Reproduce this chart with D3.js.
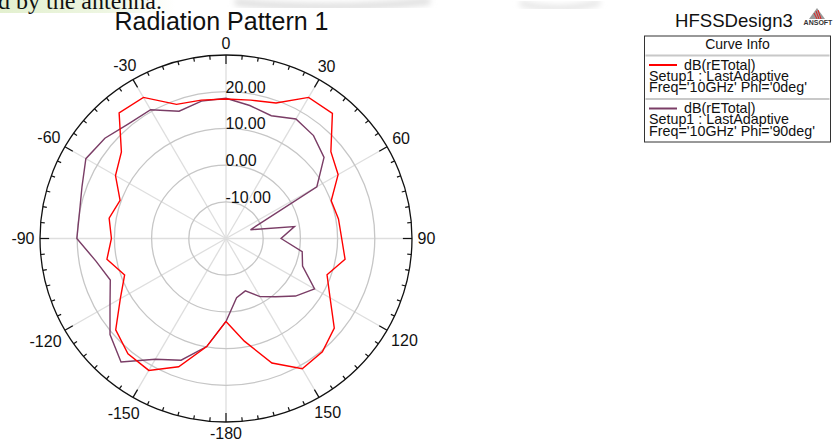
<!DOCTYPE html>
<html>
<head>
<meta charset="utf-8">
<script src="https://cdn.jsdelivr.net/npm/d3@7"></script>
<style>
  body { margin: 0; background: #fff; }
  svg text { font-family: "Liberation Sans", Arial, sans-serif; fill: #111; }
</style>
</head>
<body>
<svg id="chart" width="840" height="441"></svg>
<script>
// Data (theta in degrees, values in dB)
const thetas = [-180, -170, -160, -150, -140, -130, -120, -110, -100, -90, -80, -70, -60, -50, -40, -30, -20, -10,
    0, 10, 20, 30, 40, 50, 60, 70, 80, 90, 100, 110, 120, 130, 140, 150, 160, 170, 180];
const phi0 = [2.6, 9.9, 17.2, 21.5, 21.0, 18.7, 12.8, 9.0, 12.5, 10.8, 11.9, 10.3, 14.3, 16.7, 24.7, 24.4, 18.9, 18.3,
    18.0, 18.3, 19.3, 24.4, 24.5, 16.8, 14.8, 10.1, 10.7, 11.1, 12.5, 8.9, 12.3, 18.0, 20.3, 21.0, 16.1, 8.4, 2.6];
const phi90 = [2.6, 9.9, 15.3, 18.0, 23.9, 20.7, 16.0, 13.1, 15.5, 20.1, 20.0, 21.2, 23.5, 22.5, 20.8, 20.5, 16.9, 18.0,
    18.2, 16.8, 15.6, 17.6, 16.6, 14.4, 8.2, -13.0, -1.3, -5.2, 0.8, 1.9, 7.5, 4.4, 0.7, -1.7, -4.8, -3.6, 2.6];
const ringLevels = [-10, 0, 10, 20];
const ringLabels = ["-10.00", "0.00", "10.00", "20.00"];
const angleLabels = [0, 30, 60, 90, 120, 150, -180, -150, -120, -90, -60, -30];
const legendRows = [
    { lines: ["dB(rETotal)", "Setup1 : LastAdaptive", "Freq='10GHz' Phi='0deg'"], color: "#ff0000" },
    { lines: ["dB(rETotal)", "Setup1 : LastAdaptive", "Freq='10GHz' Phi='90deg'"], color: "#7a3d66" }
];

const svg = d3.select("#chart");
const cx = 226, cy = 238.5;
const ry = 183.5, rx = 186;
const sx = rx / ry;
const rad = d => d * Math.PI / 180;

const r = d3.scaleLinear().domain([-20, 30]).range([0, ry]);

// Page remnant at the top-left (clipped sentence with highlight)
const defs = svg.append("defs");
const grad = defs.append("linearGradient").attr("id", "hl");
grad.append("stop").attr("offset", "0%").attr("stop-color", "#e3f0cf");
grad.append("stop").attr("offset", "60%").attr("stop-color", "#eef6e2");
grad.append("stop").attr("offset", "100%").attr("stop-color", "#ffffff");
svg.append("rect").attr("x", 0).attr("y", 0).attr("width", 175).attr("height", 13).attr("fill", "url(#hl)");
defs.append("filter").attr("id", "blur").append("feGaussianBlur").attr("stdDeviation", 3);
svg.append("path").attr("d", "M235,2 Q330,12 430,1").attr("fill", "none")
    .attr("stroke", "#d9d9d9").attr("stroke-width", 6).attr("filter", "url(#blur)");
svg.append("path").attr("d", "M520,3 Q560,14 600,2").attr("fill", "none")
    .attr("stroke", "#e0e0e0").attr("stroke-width", 5).attr("filter", "url(#blur)");
svg.append("text").attr("x", -2).attr("y", 9)
    .style("font-family", "'Liberation Serif', 'Times New Roman', serif")
    .style("font-size", "24px").text("d by the antenna.");

// Title
svg.append("text").attr("x", 221.5).attr("y", 29.5).attr("text-anchor", "middle")
    .style("font-size", "25px").text("Radiation Pattern 1");

// Polar area, slightly wider than tall like the original
const polar = svg.append("g").attr("transform", `translate(${cx},${cy}) scale(${sx},1)`);

// Spokes every 30 degrees
polar.selectAll(".spoke")
    .data(angleLabels)
    .enter().append("line")
    .attr("class", "spoke")
    .attr("x1", 0).attr("y1", 0)
    .attr("x2", d => ry * Math.sin(rad(d)))
    .attr("y2", d => -ry * Math.cos(rad(d)))
    .attr("stroke", "#dedede")
    .attr("stroke-width", 1.3)
    .attr("vector-effect", "non-scaling-stroke");

// Rings
polar.selectAll(".ring")
    .data(ringLevels)
    .enter().append("circle")
    .attr("class", "ring")
    .attr("r", d => r(d))
    .attr("fill", "none")
    .attr("stroke", "#c6c6c6")
    .attr("stroke-width", 1.3)
    .attr("vector-effect", "non-scaling-stroke");

// Outer circle
polar.append("circle").attr("r", ry)
    .attr("fill", "none").attr("stroke", "#111").attr("stroke-width", 1.3)
    .attr("vector-effect", "non-scaling-stroke");

// Ticks every 5 degrees, longer ones at the spokes
const tickAngles = d3.range(0, 360, 5);
polar.selectAll(".tick")
    .data(tickAngles)
    .enter().append("line")
    .attr("class", "tick")
    .attr("x1", d => ry * Math.sin(rad(d)))
    .attr("y1", d => -ry * Math.cos(rad(d)))
    .attr("x2", d => (ry - (d % 30 === 0 ? 9 : 4)) * Math.sin(rad(d)))
    .attr("y2", d => -(ry - (d % 30 === 0 ? 9 : 4)) * Math.cos(rad(d)))
    .attr("stroke", "#111")
    .attr("stroke-width", 1.2)
    .attr("vector-effect", "non-scaling-stroke");

// Curves
const line = d3.lineRadial()
    .angle((d, i) => rad(thetas[i]))
    .radius(d => r(d));

polar.append("path").datum(phi90)
    .attr("d", line)
    .attr("fill", "none")
    .attr("stroke", legendRows[1].color)
    .attr("stroke-width", 1.4)
    .attr("vector-effect", "non-scaling-stroke");

polar.append("path").datum(phi0)
    .attr("d", line)
    .attr("fill", "none")
    .attr("stroke", legendRows[0].color)
    .attr("stroke-width", 1.4)
    .attr("vector-effect", "non-scaling-stroke");

// Ring labels
svg.selectAll(".ringlabel")
    .data(ringLevels)
    .enter().append("text")
    .attr("class", "ringlabel")
    .attr("x", cx - 0.5)
    .attr("y", (d, i) => cy - r(d) + 1)
    .style("font-size", "16px")
    .text((d, i) => ringLabels[i]);

// Angle labels, pushed out so their nearest edge sits off the circle
svg.selectAll(".anglabel")
    .data(angleLabels)
    .enter().append("text")
    .attr("class", "anglabel")
    .attr("text-anchor", "middle")
    .style("font-size", "16px")
    .text(d => d)
    .each(function (d) {
        const w = this.getComputedTextLength() / 2;
        const h = 6;
        const s = Math.sin(rad(d)), c = Math.cos(rad(d));
        const dist = 5.5 + w * Math.abs(s) + h * Math.abs(c);
        const x = cx + (rx + dist) * s;
        const y = cy - (ry + dist) * c;
        d3.select(this).attr("x", x).attr("y", y + 5.8);
    });

// Design name and logo
svg.append("text").attr("x", 675).attr("y", 26.5)
    .style("font-size", "18.6px").text("HFSSDesign3");
const logo = svg.append("g").attr("transform", "translate(817,8)");
logo.append("path").attr("d", "M0,0 L-8,11 L8,11 Z").attr("fill", "#9a9a9a");
logo.append("path").attr("d", "M-1,3 L2,11 M1,2 L4,11 M-3,5 L0,11").attr("stroke", "#e02020").attr("stroke-width", 1);
svg.append("text").attr("x", 818).attr("y", 24.5).attr("text-anchor", "middle")
    .style("font-size", "7px").style("font-weight", "bold").style("fill", "#333").text("ANSOFT");

// Legend box
const lx = 644.5, lw = 186, ltop = 36, lbottom = 142;
const legend = svg.append("g");
legend.append("rect").attr("x", lx).attr("y", ltop).attr("width", lw).attr("height", lbottom - ltop)
    .attr("fill", "#fff").attr("stroke", "#333").attr("stroke-width", 1);
legend.append("text").attr("x", lx + lw / 2).attr("y", 49).attr("text-anchor", "middle")
    .style("font-size", "14px").text("Curve Info");

const rowH = 43.5;
legendRows.forEach((row, i) => {
    const top = 55.5 + i * rowH;
    legend.append("line").attr("x1", lx + 1).attr("x2", lx + lw - 1).attr("y1", top).attr("y2", top)
        .attr("stroke", "#c8c8c8").attr("stroke-width", 2);
    legend.append("line").attr("x1", 649).attr("x2", 677).attr("y1", top + 9.5).attr("y2", top + 9.5)
        .attr("stroke", row.color).attr("stroke-width", 2);
    row.lines.forEach((t, j) => {
        legend.append("text")
            .attr("x", j === 0 ? 684 : 649)
            .attr("y", top + 14 + j * 11.4)
            .style("font-size", "14.3px")
            .text(t);
    });
});
</script>
</body>
</html>
